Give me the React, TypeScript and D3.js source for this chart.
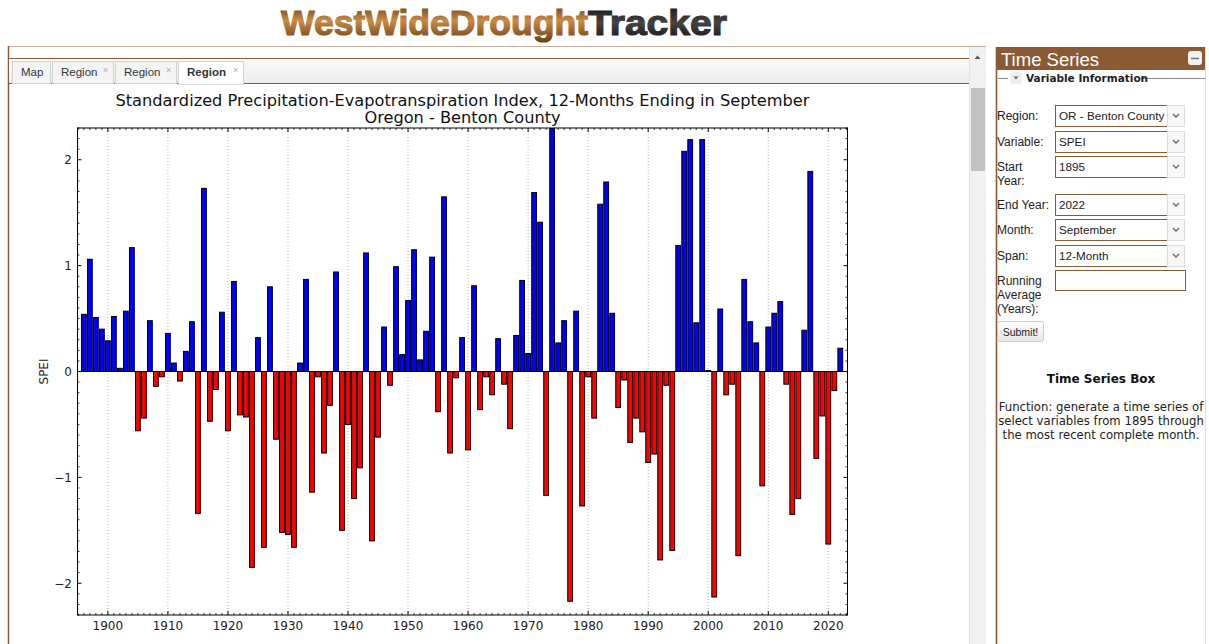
import React from 'react';
import * as d3 from 'd3';

// SPEI, 12 months ending September, Benton County OR
const firstYear = 1896;
const speiValues = [
  0.54, 1.06, 0.51, 0.40, 0.29, 0.52, 0.03, 0.57, 1.17, -0.56,
  -0.44, 0.48, -0.14, -0.05, 0.36, 0.08, -0.09, 0.19, 0.47, -1.34,
  1.73, -0.47, -0.17, 0.56, -0.56, 0.85, -0.41, -0.43, -1.85, 0.32,
  -1.66, 0.80, -0.64, -1.52, -1.54, -1.66, 0.08, 0.87, -1.14, -0.05,
  -0.77, -0.32, 0.94, -1.50, -0.50, -1.20, -0.91, 1.12, -1.60, -0.62,
  0.42, -0.13, 0.99, 0.16, 0.67, 1.15, 0.11, 0.38, 1.08, -0.38,
  1.65, -0.77, -0.06, 0.32, -0.74, 0.81, -0.36, -0.05, -0.22, 0.31,
  -0.12, -0.54, 0.34, 0.86, 0.17, 1.69, 1.41, -1.17, 2.30, 0.27,
  0.48, -2.17, 0.57, -1.27, -0.05, -0.44, 1.58, 1.79, 0.55, -0.34,
  -0.08, -0.67, -0.44, -0.57, -0.86, -0.78, -1.78, -0.13, -1.69, 1.19,
  2.08, 2.19, 0.46, 2.19, 0.01, -2.13, 0.59, -0.22, -0.12, -1.74,
  0.87, 0.47, 0.27, -1.08, 0.42, 0.55, 0.66, -0.12, -1.35, -1.20,
  0.39, 1.89, -0.82, -0.42, -1.63, -0.18, 0.22,
];
const years = speiValues.map((_, i) => firstYear + i);
const xTicks = [1900, 1910, 1920, 1930, 1940, 1950, 1960, 1970, 1980, 1990, 2000, 2010, 2020];
const yTicks = [-2, -1, 0, 1, 2];
const tabs = ['Map', 'Region', 'Region', 'Region'];
const formRows = [
  { label: ['Region:'], value: 'OR - Benton County' },
  { label: ['Variable:'], value: 'SPEI' },
  { label: ['Start', 'Year:'], value: '1895' },
  { label: ['End Year:'], value: '2022' },
  { label: ['Month:'], value: 'September' },
  { label: ['Span:'], value: '12-Month' },
];
const infoLines = [
  'Function: generate a time series of',
  'select variables from 1895 through',
  'the most recent complete month.',
];

const BROWN = '#8a5a34';
const CHART_FONT = 'DejaVu Sans, sans-serif';
const UI_FONT = 'Liberation Sans, Arial, sans-serif';

const App: React.FC = () => {
  const plot = { left: 77.5, right: 847.5, top: 128, bottom: 615 };
  const x = d3.scaleLinear().domain([1894.94, 2023.2]).range([plot.left, plot.right]);
  const y = d3.scaleLinear().domain([-2.3, 2.3]).range([plot.bottom, plot.top]);
  const barW = x(1900.8) - x(1900);
  const minorX = d3.range(1895, 2024).filter(v => v % 10 !== 0);
  const minorY = d3.range(-23, 24).map(v => v / 10).filter(v => Math.abs(v * 10) % 10 !== 0);
  const fmt = (v: number) => (v < 0 ? '\u2212' + Math.abs(v) : String(v));

  const rowY = [105, 131, 156, 194, 219, 245];

  return (
    <div style={{ position: 'absolute', left: 0, top: 0 }}>
      <svg width={1209} height={644} style={{ display: 'block', background: '#fff' }}>
        <defs>
          <linearGradient id="logoBrown" x1="0" y1="0" x2="0" y2="1">
            <stop offset="0%" stopColor="#5e3812" />
            <stop offset="45%" stopColor="#c98b47" />
            <stop offset="100%" stopColor="#6a3f15" />
          </linearGradient>
          <linearGradient id="logoDark" x1="0" y1="0" x2="0" y2="1">
            <stop offset="0%" stopColor="#111" />
            <stop offset="50%" stopColor="#444" />
            <stop offset="100%" stopColor="#111" />
          </linearGradient>
          <linearGradient id="tabBar" x1="0" y1="0" x2="0" y2="1">
            <stop offset="0%" stopColor="#fafafa" />
            <stop offset="100%" stopColor="#ececec" />
          </linearGradient>
          <linearGradient id="btn" x1="0" y1="0" x2="0" y2="1">
            <stop offset="0%" stopColor="#ffffff" />
            <stop offset="100%" stopColor="#e6e6e6" />
          </linearGradient>
          <clipPath id="plotClip">
            <rect x={plot.left} y={plot.top} width={plot.right - plot.left} height={plot.bottom - plot.top} />
          </clipPath>
        </defs>

        {/* logo */}
        <text x={281} y={35} fontFamily={UI_FONT} fontWeight="bold" fontSize={35}
          textLength={307} lengthAdjust="spacingAndGlyphs" fill="url(#logoBrown)"
          stroke="url(#logoBrown)" strokeWidth={1.2}>WestWideDrought</text>
        <text x={588} y={35} fontFamily={UI_FONT} fontWeight="bold" fontSize={35}
          textLength={139} lengthAdjust="spacingAndGlyphs" fill="url(#logoDark)"
          stroke="url(#logoDark)" strokeWidth={1.2}>Tracker</text>

        {/* left panel frame */}
        <line x1={8} x2={986} y1={46.5} y2={46.5} stroke="#c9ada0" />
        <line x1={8.5} x2={8.5} y1={46} y2={644} stroke={BROWN} strokeWidth={1.5} />
        <rect x={9} y={58} width={960} height={25} fill="url(#tabBar)" />
        <line x1={9} x2={969} y1={58.5} y2={58.5} stroke={BROWN} />
        <line x1={9} x2={969} y1={83.5} y2={83.5} stroke={BROWN} />
        {/* scrollbar */}
        <rect x={969} y={47} width={17} height={597} fill="#f1f1f1" />
        <line x1={969.5} x2={969.5} y1={47} y2={644} stroke="#e4e4e4" />
        <path d="M974.5,59 L977.5,55.5 L980.5,59 Z" fill="#555" />
        <rect x={971} y={88} width={14} height={83} fill="#c1c1c1" />

        {/* tabs */}
        {tabs.map((t, i) => {
          const tx = i === 0 ? 12 : 52 + (i - 1) * 63;
          const tw = i === 0 ? 38 : i === 3 ? 65 : 61;
          const active = i === 3;
          return (
            <g key={i}>
              <rect x={tx + 0.5} y={61.5} width={tw} height={active ? 23 : 22}
                fill={active ? '#fff' : '#f4f4f4'} stroke="#d3d3d3" />
              {active && <line x1={tx + 1} x2={tx + tw} y1={83.5} y2={83.5} stroke="#fff" strokeWidth={1.5} />}
              <text x={tx + 9} y={76} fontFamily={UI_FONT} fontSize={11.5}
                fontWeight={active ? 'bold' : 'normal'} fill="#333">{t}</text>
              {i > 0 && (
                <text x={tx + tw - 10} y={73} fontFamily={UI_FONT} fontSize={9} fill="#aaa">{'\u00d7'}</text>
              )}
            </g>
          );
        })}

        {/* chart */}
        <text x={(plot.left + plot.right) / 2} y={106} textAnchor="middle" fontFamily={CHART_FONT}
          fontSize={16.2} fill="#111">
          Standardized Precipitation-Evapotranspiration Index, 12-Months Ending in September
        </text>
        <text x={(plot.left + plot.right) / 2} y={123} textAnchor="middle" fontFamily={CHART_FONT}
          fontSize={16.2} fill="#111">Oregon - Benton County</text>

        {xTicks.map(t => (
          <line key={'g' + t} x1={x(t)} x2={x(t)} y1={plot.top} y2={plot.bottom}
            stroke="#b5b5b5" strokeDasharray="1,2" />
        ))}

        <g clipPath="url(#plotClip)">
          {speiValues.map((v, i) => (
            <rect key={years[i]} x={x(years[i]) - barW / 2} width={barW}
              y={Math.min(y(v), y(0))} height={Math.abs(y(v) - y(0))}
              fill={v >= 0 ? '#0000ff' : '#ff0000'} stroke="#000" strokeWidth={1} />
          ))}
        </g>
        <line x1={plot.left} x2={plot.right} y1={y(0)} y2={y(0)} stroke="#000" strokeWidth={1.2} />

        {/* ticks, inward on all sides */}
        {xTicks.map(t => (
          <g key={'xt' + t}>
            <line x1={x(t)} x2={x(t)} y1={plot.bottom} y2={plot.bottom - 4} stroke="#000" />
            <line x1={x(t)} x2={x(t)} y1={plot.top} y2={plot.top + 4} stroke="#000" />
            <text x={x(t)} y={630} textAnchor="middle" fontFamily={CHART_FONT} fontSize={12} fill="#222">{t}</text>
          </g>
        ))}
        {minorX.map(t => (
          <g key={'xm' + t}>
            <line x1={x(t)} x2={x(t)} y1={plot.bottom} y2={plot.bottom - 2} stroke="#000" strokeWidth={0.8} />
            <line x1={x(t)} x2={x(t)} y1={plot.top} y2={plot.top + 2} stroke="#000" strokeWidth={0.8} />
          </g>
        ))}
        {yTicks.map(t => (
          <g key={'yt' + t}>
            <line x1={plot.left} x2={plot.left + 4} y1={y(t)} y2={y(t)} stroke="#000" />
            <line x1={plot.right} x2={plot.right - 4} y1={y(t)} y2={y(t)} stroke="#000" />
            <text x={72} y={y(t) + 4.5} textAnchor="end" fontFamily={CHART_FONT} fontSize={12} fill="#222">{fmt(t)}</text>
          </g>
        ))}
        {minorY.map(t => (
          <g key={'ym' + t}>
            <line x1={plot.left} x2={plot.left + 2} y1={y(t)} y2={y(t)} stroke="#000" strokeWidth={0.8} />
            <line x1={plot.right} x2={plot.right - 2} y1={y(t)} y2={y(t)} stroke="#000" strokeWidth={0.8} />
          </g>
        ))}
        <rect x={plot.left} y={plot.top} width={plot.right - plot.left} height={plot.bottom - plot.top}
          fill="none" stroke="#000" strokeWidth={1} />
        <text transform={`translate(48,${y(0)}) rotate(-90)`} textAnchor="middle" fontFamily={CHART_FONT}
          fontSize={12} fill="#222">SPEI</text>

        {/* right panel */}
        <rect x={996} y={47} width={209} height={23} fill={BROWN} />
        <text x={1001} y={66} fontFamily={UI_FONT} fontSize={18.5} fill="#fff">Time Series</text>
        <rect x={1188} y={51} width={14} height={14} rx={3} fill="#f2f2f2" />
        <line x1={1191} x2={1199} y1={58.5} y2={58.5} stroke="#777" strokeWidth={1.5} />
        <line x1={996.5} x2={996.5} y1={47} y2={644} stroke={BROWN} strokeWidth={1.6} />
        <line x1={1205.5} x2={1205.5} y1={47} y2={644} stroke="#ddd" />

        <line x1={998} x2={1008} y1={78.5} y2={78.5} stroke="#888" />
        <line x1={1141} x2={1205} y1={78.5} y2={78.5} stroke="#888" />
        <rect x={1010} y={72} width={12} height={12} rx={2} fill="#eee" />
        <path d="M1013.5,76.5 L1018.5,76.5 L1016,79.5 Z" fill="#666" />
        <text x={1026} y={82} fontFamily={CHART_FONT} fontSize={10.5} fontWeight="bold" fill="#222">Variable Information</text>

        {formRows.map((r, i) => (
          <g key={r.label[0]}>
            {r.label.map((l, j) => (
              <text key={l} x={997} y={rowY[i] + 15 + j * 14} fontFamily={UI_FONT} fontSize={12} fill="#222">{l}</text>
            ))}
            <rect x={1055.5} y={rowY[i] + 0.5} width={112} height={21} fill="#fff" stroke={BROWN} />
            <rect x={1167.5} y={rowY[i] + 0.5} width={17} height={21} fill="#f7f7f7" stroke="#ddd" />
            <path d={`M1173,${rowY[i] + 9} L1176,${rowY[i] + 12} L1179,${rowY[i] + 9}`} fill="none" stroke="#666" strokeWidth={1.3} />
            <text x={1059} y={rowY[i] + 15} fontFamily={UI_FONT} fontSize={11.7} fill="#222">{r.value}</text>
          </g>
        ))}
        {['Running', 'Average', '(Years):'].map((l, j) => (
          <text key={l} x={997} y={285 + j * 14} fontFamily={UI_FONT} fontSize={12} fill="#222">{l}</text>
        ))}
        <rect x={1055.5} y={270.5} width={130} height={20} fill="#fff" stroke={BROWN} />
        <rect x={997.5} y={321.5} width={46} height={20} rx={2} fill="url(#btn)" stroke="#ccc" />
        <text x={1020.5} y={335.5} textAnchor="middle" fontFamily={UI_FONT} fontSize={10.5} fill="#222">Submit!</text>

        <text x={1101} y={383} textAnchor="middle" fontFamily={CHART_FONT} fontSize={12} fontWeight="bold" fill="#111">Time Series Box</text>
        {infoLines.map((l, j) => (
          <text key={l} x={1101} y={411 + j * 14} textAnchor="middle" fontFamily={CHART_FONT} fontSize={11.7} fill="#222">{l}</text>
        ))}
      </svg>
    </div>
  );
};

export default App;
